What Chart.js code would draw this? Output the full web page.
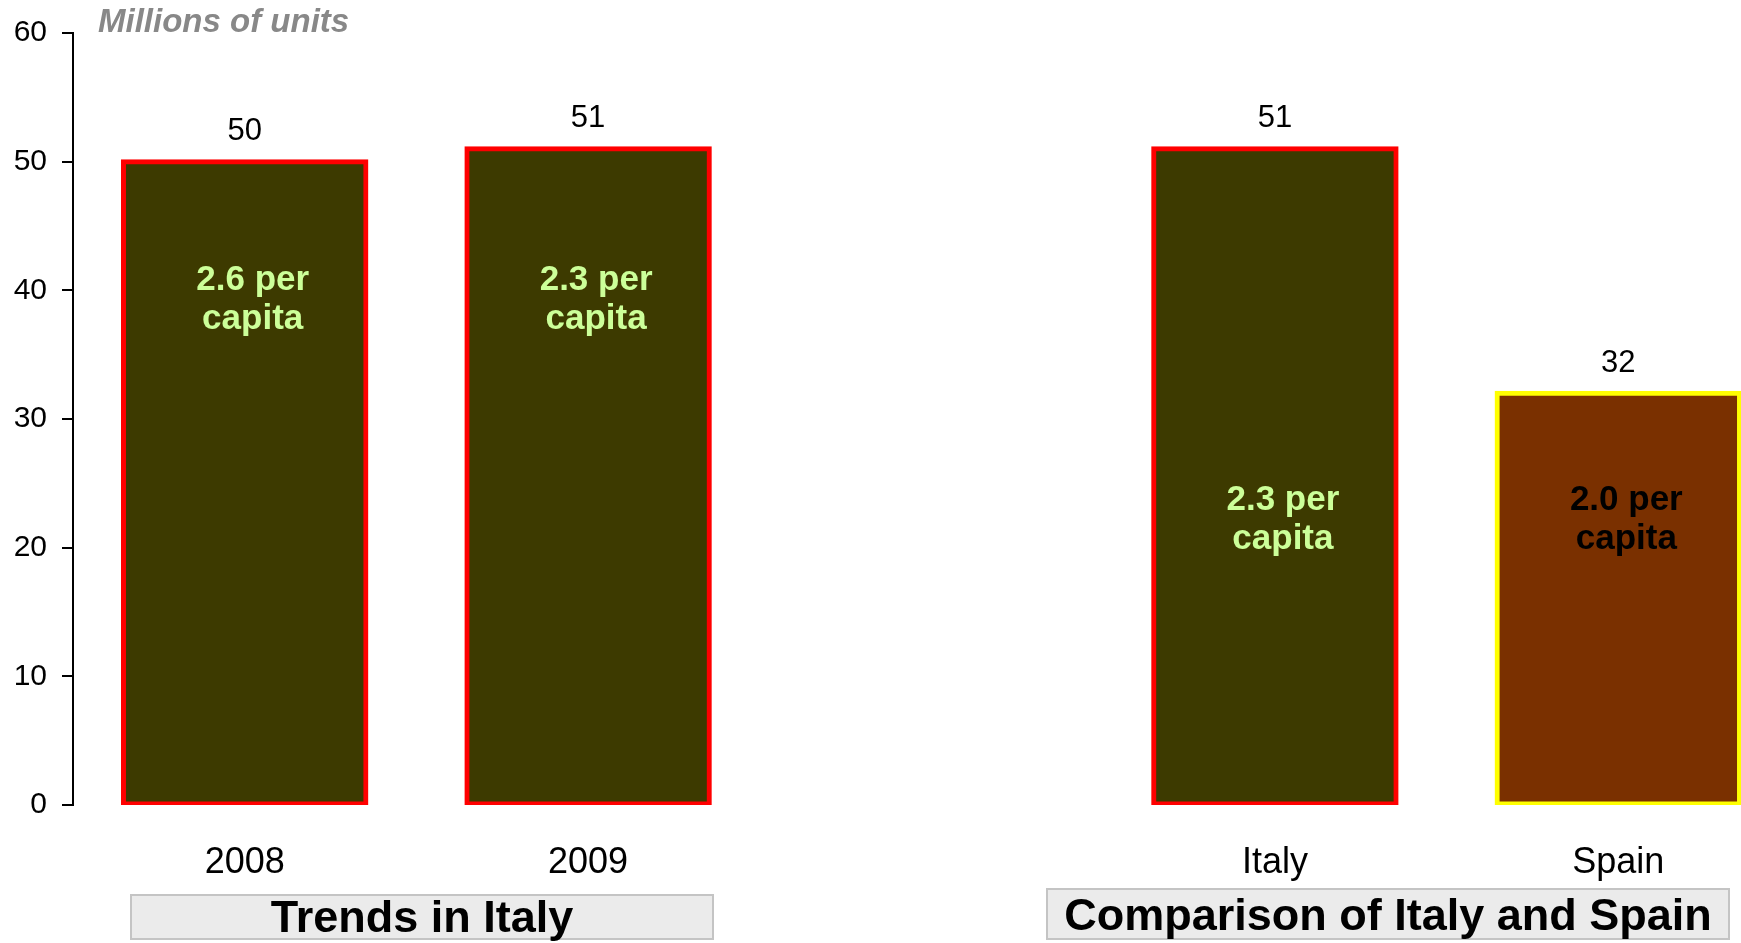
<!DOCTYPE html>
<html>
<head>
<meta charset="utf-8">
<script src="https://cdn.jsdelivr.net/npm/chart.js@4"></script>
<style>
  html, body { margin: 0; padding: 0; background: #fff; overflow: hidden; }
  #wrap { width: 1795px; height: 943px; position: relative; }
</style>
</head>
<body>
<div id="wrap"><canvas id="myChart"></canvas></div>
<script>
// categories (the empty one is the gap between the two groups)
const categories = ['2008', '2009', '', 'Italy', 'Spain']
const units = [50, 51, null, 51, 32]
const perCapita = ['2.6 per capita', '2.3 per capita', '', '2.3 per capita', '2.0 per capita']
const yTicks = [0, 10, 20, 30, 40, 50, 60]
const groupTitles = ['Trends in Italy', 'Comparison of Italy and Spain']
const unitLabel = 'Millions of units'

const fillColors = ['#3d3a00', '#3d3a00', '#3d3a00', '#3d3a00', '#7a3000']
const edgeColors = ['#ff0000', '#ff0000', '#ff0000', '#ff0000', '#ffff00']
const innerText = ['#ccff99', '#ccff99', '#ccff99', '#ccff99', '#000000']

const FONT = "'Liberation Sans', Arial, sans-serif"

const labelsPlugin = {
    id: 'labelsPlugin',
    afterDatasetsDraw(chart) {
        const ctx = chart.ctx
        const meta = chart.getDatasetMeta(0)
        const y = chart.scales.y
        // where the per-capita text sits (in axis units)
        const innerAt = [39.3, 39.3, null, 22.2, 22.2]
        ctx.save()
        meta.data.forEach((bar, i) => {
            if (units[i] == null) return
            ctx.textAlign = 'center'
            ctx.textBaseline = 'middle'
            ctx.fillStyle = '#000'
            ctx.font = '31px ' + FONT
            ctx.fillText(String(units[i]), bar.x, bar.y - 30)

            const words = perCapita[i].split(' ')
            const lines = [words[0] + ' ' + words[1], words[2]]
            const mid = y.getPixelForValue(innerAt[i])
            ctx.font = 'bold 35px ' + FONT
            ctx.fillStyle = innerText[i]
            ctx.fillText(lines[0], bar.x + 8, mid - 19)
            ctx.fillText(lines[1], bar.x + 8, mid + 20)
        })
        ctx.restore()
    },
    afterDraw(chart) {
        const ctx = chart.ctx
        ctx.save()
        // unit label top left
        ctx.font = 'italic bold 33px ' + FONT
        ctx.fillStyle = '#888888'
        ctx.textAlign = 'left'
        ctx.textBaseline = 'alphabetic'
        ctx.fillText(unitLabel, 98, 32)

        // group title boxes
        const boxes = [
            { x: 131, y: 895, w: 582, h: 44, tx: 422, ty: 932 },
            { x: 1047, y: 889, w: 682, h: 50, tx: 1388, ty: 930 }
        ]
        boxes.forEach((b, i) => {
            ctx.fillStyle = '#ebebeb'
            ctx.fillRect(b.x, b.y, b.w, b.h)
            ctx.strokeStyle = '#c4c4c4'
            ctx.lineWidth = 2
            ctx.strokeRect(b.x, b.y, b.w, b.h)
            ctx.fillStyle = '#000'
            ctx.font = 'bold 45px ' + FONT
            ctx.textAlign = 'center'
            ctx.fillText(groupTitles[i], b.tx, b.ty)
        })
        ctx.restore()
    }
}

const dataConfig = {
    labels: categories,
    datasets: [{
        data: units,
        backgroundColor: fillColors,
        borderColor: edgeColors,
        borderWidth: 5,
        borderSkipped: false,
        inflateAmount: 2.5,
        categoryPercentage: 1,
        barPercentage: 0.706
    }]
}

const config = {
    type: 'bar',
    data: dataConfig,
    plugins: [labelsPlugin],
    options: {
        responsive: true,
        maintainAspectRatio: false,
        animation: false,
        layout: { padding: { top: 28, right: 5, left: 0, bottom: 0 } },
        plugins: {
            legend: { display: false },
            tooltip: { enabled: false }
        },
        scales: {
            x: {
                offset: true,
                grid: { display: false, drawTicks: false },
                border: { display: false },
                ticks: {
                    color: '#000',
                    font: { family: FONT, size: 36 },
                    padding: 36,
                    maxRotation: 0,
                    autoSkip: false
                },
                afterFit: s => { s.height = 138 }
            },
            y: {
                min: 0,
                max: 60,
                afterBuildTicks: s => { s.ticks = yTicks.map(v => ({ value: v })) },
                grid: { drawOnChartArea: false, drawTicks: true, tickLength: 11, color: '#000', lineWidth: 2 },
                border: { display: true, color: '#000', width: 2 },
                ticks: {
                    color: '#000',
                    font: { family: FONT, size: 30 },
                    padding: 15
                },
                afterFit: s => { s.width = 73 }
            }
        }
    }
}

const myChart = new Chart(document.getElementById('myChart'), config)
</script>
</body>
</html>
